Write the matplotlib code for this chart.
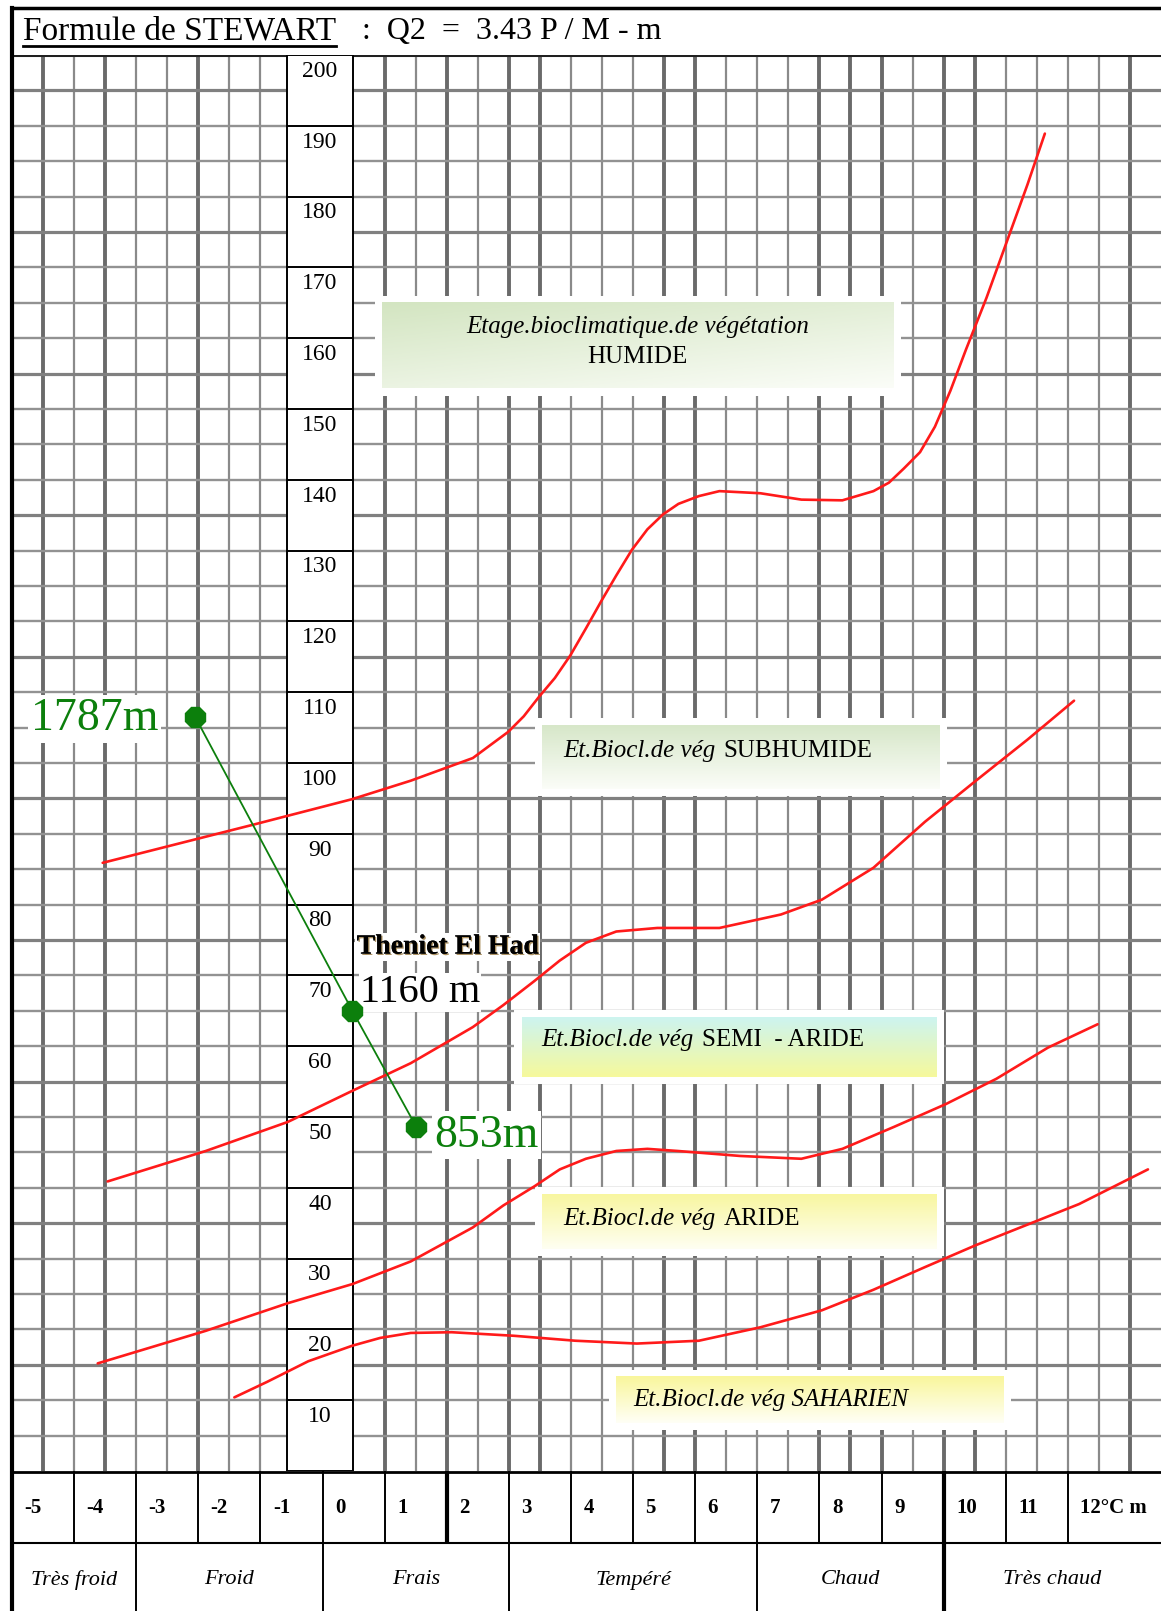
import numpy as np
import matplotlib.pyplot as plt
from matplotlib.patches import Rectangle
from matplotlib.lines import Line2D
from matplotlib.colors import to_rgb
from matplotlib.offsetbox import TextArea, HPacker, AnnotationBbox
import matplotlib.patheffects as pe

plt.rcParams['font.family'] = ['Liberation Serif', 'DejaVu Serif']

W, H = 1161, 1611
fig = plt.figure(figsize=(W / 100, H / 100), dpi=100)

# axes: mean minimum temperature m (°C) and Q2 (Stewart)
t_min, t_max = -5, 13.5
q_min, q_max = 0, 200
q_ticks = list(range(10, 201, 10))
temp_ticks = list(range(-5, 13))
temp_labels = [str(v) for v in range(-5, 12)] + ['12°C m']
zones = ['Très froid', 'Froid', 'Frais', 'Tempéré', 'Chaud', 'Très chaud']
zone_edges = [-5, -3, 0, 3, 7, 10, 13.5]

# limits between bioclimatic stages (m, Q2)
humide_t = [-3.54, -1.11, 0.48, 1.42, 2.42, 2.99, 3.24, 3.49, 3.74, 3.99, 4.24, 4.49,
            4.73, 4.98, 5.23, 5.48, 5.73, 6.06, 6.39, 7.05, 7.71, 8.37, 8.87, 9.12,
            9.36, 9.62, 9.86, 10.11, 10.36, 10.69, 11.02, 11.35, 11.63]
humide_q = [85.9, 91.3, 94.9, 97.5, 100.7, 104.4, 106.6, 109.4, 112.0, 115.2, 119.0, 122.9,
            126.5, 130.1, 133.0, 135.1, 136.6, 137.7, 138.4, 138.1, 137.2, 137.1, 138.4, 139.6,
            141.6, 143.9, 147.5, 152.6, 158.4, 165.7, 173.7, 181.7, 188.9]

subhumide_t = [-3.46, -1.88, -0.56, 0.48, 1.42, 2.42, 2.91, 3.41, 3.82, 4.24, 4.73, 5.39,
               6.39, 7.38, 8.04, 8.87, 9.70, 10.52, 11.35, 12.10]
subhumide_q = [40.9, 45.2, 49.3, 53.7, 57.6, 62.7, 65.8, 69.2, 72.1, 74.6, 76.2, 76.7,
               76.7, 78.6, 80.7, 85.2, 91.7, 97.5, 103.3, 108.8]

semiaride_t = [-3.62, -1.88, -0.56, 0.48, 1.42, 2.42, 2.91, 3.41, 3.82, 4.24, 4.73, 5.23,
               5.72, 6.72, 7.71, 8.37, 9.20, 10.03, 10.85, 11.68, 12.48]
semiaride_q = [15.2, 19.8, 23.7, 26.4, 29.6, 34.4, 37.5, 40.2, 42.6, 44.1, 45.2, 45.5,
               45.2, 44.5, 44.1, 45.5, 48.6, 51.8, 55.4, 59.8, 63.1]

aride_t = [-1.42, -0.89, -0.23, 0.48, 0.93, 1.42, 2.08, 3.08, 4.07, 5.06, 6.06, 7.05,
           8.04, 8.87, 9.70, 10.52, 11.35, 12.18, 13.29]
aride_q = [10.4, 12.6, 15.5, 17.7, 18.8, 19.5, 19.6, 19.1, 18.4, 18.0, 18.4, 20.3,
           22.7, 25.6, 28.8, 31.9, 34.8, 37.7, 42.6]

# stations
station_t = [-2.05, 0.48, 1.51]
station_q = [106.5, 65.0, 48.6]
station_alt = ['1787m', '1160 m', '853m']
station_name = 'Theniet El Had'

ax = fig.add_axes([12 / W, 1 - 1471 / H, (W - 12) / W, (1471 - 55) / H])
ax.set_axis_off()

# paper grid
heavy_cols = {-4.5, -3.5, -2.0, 1.0, 2.0, 3.0, 3.5, 5.5, 6.0, 8.0, 8.5, 9.0, 10.0, 10.5, 13.0}
for x in np.arange(-4.5, 13.01, 0.5):
    if -0.6 < x < 0.6:
        continue
    if x in heavy_cols:
        ax.axvline(x, color='#6a6a6a', lw=2.8, zorder=1)
    else:
        ax.axvline(x, color='#8a8a8a', lw=1.6, zorder=1)
for y in range(5, 200, 5):
    if y % 20 == 15:
        ax.axhline(y, color='#808080', lw=2.3, zorder=1)
    else:
        ax.axhline(y, color='#929292', lw=1.7, zorder=1)
ax.axhline(200, color='#202020', lw=2.2, zorder=1)

# Q2 scale column
col_l, col_r = -0.57, 0.49
ax.add_patch(Rectangle((col_l, q_min), col_r - col_l, q_max - q_min,
                       facecolor='white', edgecolor='black', lw=1.4, zorder=2))
ax.hlines(q_ticks[:-1], col_l, col_r, color='black', lw=1.4, zorder=2)
for q in q_ticks:
    ax.text((col_l + col_r) / 2, q - 2.3, str(q), ha='center', va='center',
            fontsize=17, zorder=3)


def stage_box(t0, t1, q0, q1, c_top, c_bot, diag=False):
    ax.add_patch(Rectangle((t0 - 0.12, q0 - 1.0), t1 - t0 + 0.24, q1 - q0 + 2.0,
                           facecolor='white', edgecolor='none', zorder=2))
    yy = np.linspace(0, 1, 60)[:, None]
    xx = np.linspace(0, 1, 240)[None, :]
    f = 0.6 * yy + 0.4 * xx if diag else yy + 0 * xx
    top, bot = np.array(to_rgb(c_top)), np.array(to_rgb(c_bot))
    img = top * (1 - f[..., None]) + bot * f[..., None]
    ax.imshow(img, extent=[t0, t1, q0, q1], origin='upper', aspect='auto', zorder=3)


def stage_label(x, y, italic, upright=None, size=18):
    parts = [TextArea(italic, textprops=dict(style='italic', fontsize=size))]
    if upright:
        parts.append(TextArea(upright, textprops=dict(fontsize=size)))
    pack = HPacker(children=parts, align='baseline', pad=0, sep=6)
    ax.add_artist(AnnotationBbox(pack, (x, y), xycoords='data', box_alignment=(0, 0.5),
                                 frameon=False, pad=0, zorder=5))


stage_box(0.96, 9.20, 152.9, 165.0, '#d3e5c1', '#fbfdf8', diag=True)
ax.text(5.07, 161.6, 'Etage.bioclimatique.de végétation', style='italic', fontsize=18,
        ha='center', va='center', zorder=5)
ax.text(5.07, 157.4, 'HUMIDE', fontsize=18, ha='center', va='center', zorder=5)

stage_box(3.54, 9.94, 96.3, 105.3, '#d7e7c9', '#fbfdf8')
stage_label(3.87, 101.7, 'Et.Biocl.de vég', 'SUBHUMIDE')

stage_box(3.21, 9.89, 55.7, 64.1, '#cdf4f0', '#f6f99c')
stage_label(3.53, 60.9, 'Et.Biocl.de vég', 'SEMI  - ARIDE')

stage_box(3.54, 9.89, 31.4, 39.1, '#f8f6a0', '#fffff2')
stage_label(3.87, 35.6, 'Et.Biocl.de vég', 'ARIDE')

stage_box(4.73, 10.97, 6.8, 13.3, '#f9f69c', '#fffff6')
stage_label(5.01, 10.0, 'Et.Biocl.de vég SAHARIEN')

# stage limits
for ts, qs in [(humide_t, humide_q), (subhumide_t, subhumide_q),
               (semiaride_t, semiaride_q), (aride_t, aride_q)]:
    ax.plot(ts, qs, color='#ff1a1a', lw=1.9, zorder=4,
            solid_capstyle='round', solid_joinstyle='round')

# stations along the altitude gradient
green = '#0c7f0c'
ax.plot(station_t, station_q, color=green, lw=1.3, zorder=6)
ax.plot(station_t, station_q, ls='none', marker='8', ms=15, color=green, zorder=7)
ax.text(-4.70, station_q[0] - 0.3, station_alt[0], color=green, fontsize=33,
        ha='left', va='center', zorder=6,
        bbox=dict(facecolor='white', edgecolor='none', pad=2))
ax.text(1.80, station_q[2] - 1.2, station_alt[2], color=green, fontsize=33,
        ha='left', va='center', zorder=6,
        bbox=dict(facecolor='white', edgecolor='none', pad=2))
ax.text(0.55, 74.0, station_name, fontsize=20, fontweight='bold', ha='left', va='center',
        zorder=6, bbox=dict(facecolor='white', edgecolor='none', pad=1),
        path_effects=[pe.withSimplePatchShadow(offset=(1, -1), shadow_rgbFace='#8a6420',
                                              alpha=0.7), pe.Normal()])
ax.text(0.60, 67.6, station_alt[1], fontsize=29, ha='left', va='center', zorder=6,
        bbox=dict(facecolor='white', edgecolor='none', pad=1))

ax.set_xlim(t_min, t_max)
ax.set_ylim(q_min, q_max)

# temperature rows under the grid
axb = fig.add_axes([12 / W, 0, (W - 12) / W, 140 / H])
axb.set_axis_off()
axb.set_xlim(t_min, t_max)
axb.set_ylim(0, 140)
axb.axhline(139, color='black', lw=2)
axb.axhline(68, color='black', lw=1.5)
for k in temp_ticks[1:]:
    axb.vlines(k, 68, 140, color='black', lw=3 if k in (2, 10) else 1.4)
for k, lab in zip(temp_ticks, temp_labels):
    axb.text(k + 0.2, 103, lab, fontsize=15, fontweight='bold', ha='left', va='center')
for e in zone_edges[1:-1]:
    axb.vlines(e, 0, 68, color='black', lw=3 if e == 10 else 1.4)
for name, a, b in zip(zones, zone_edges[:-1], zone_edges[1:]):
    axb.text((a + b) / 2, 31, name, style='italic', fontsize=16, ha='center', va='center')

# frame and title row
fig.add_artist(Line2D([12 / W, 12 / W], [0, 1 - 8 / H], color='black', lw=3))
fig.add_artist(Line2D([12 / W, 1], [1 - 8 / H, 1 - 8 / H], color='black', lw=2.5))
title = fig.text(23 / W, 1 - 31 / H, 'Formule de STEWART', fontsize=24, va='center')
fig.text(362 / W, 1 - 31 / H, ':  Q2  =  3.43 P / M - m', fontsize=23, va='center')
fig.canvas.draw()
bb = title.get_window_extent()
fig.add_artist(Line2D([bb.x0 / W, bb.x1 / W], [1 - 46 / H, 1 - 46 / H], color='black', lw=2))

fig.savefig('out.png', dpi=100)
